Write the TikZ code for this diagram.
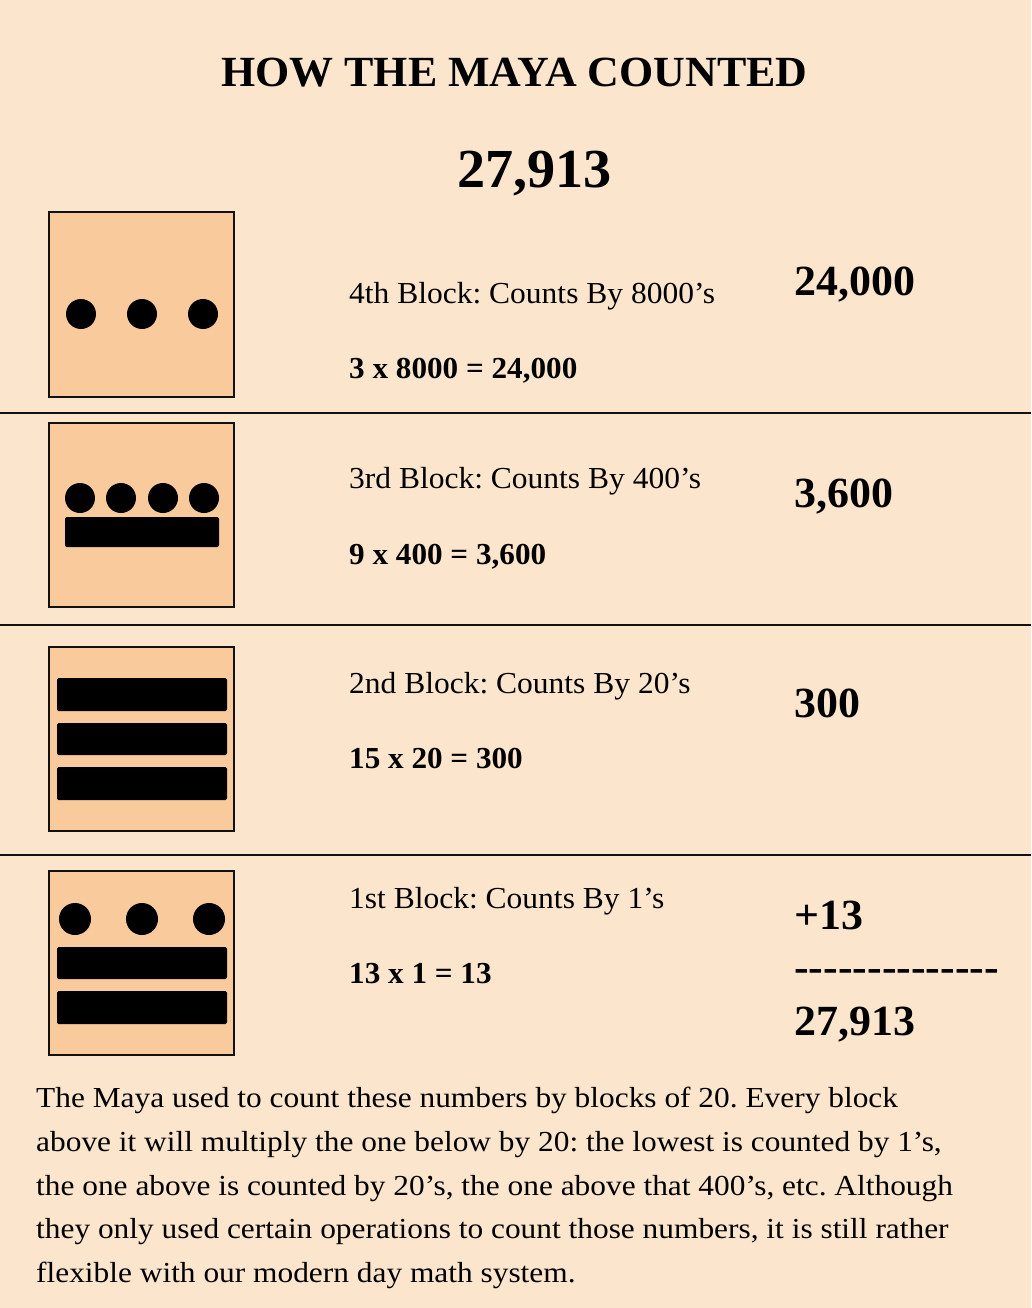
\documentclass[tikz,border=0pt]{standalone}
\usepackage{fontspec}
\setmainfont{Liberation Serif}[FakeStretch=1.022]
\newfontfamily\lblfont{Liberation Serif}[FakeStretch=1.033]
\newfontfamily\parafont{Liberation Serif}[FakeStretch=1.082]
\definecolor{bgc}{HTML}{FCE5CD}
\definecolor{boxc}{HTML}{F9CB9C}
\definecolor{linec}{HTML}{111111}
\newcommand\hy{\mbox{-}}
\frenchspacing
\begin{document}
\frenchspacing
\begin{tikzpicture}[x=1pt,y=-1pt,
  glyphbox/.style={draw=linec, line width=2pt, fill=boxc},
  mdot/.style={fill=black},
  mbar/.style={fill=black, rounded corners=1.5pt},
  divider/.style={draw=linec, line width=2pt},
  lbl/.style={anchor=base west, inner sep=0pt, font=\lblfont\fontsize{30.5}{36}\selectfont},
  eqn/.style={anchor=base west, inner sep=0pt, font=\bfseries\fontsize{30.5}{36}\selectfont},
  big/.style={anchor=base west, inner sep=0pt, font=\bfseries\fontsize{43}{50}\selectfont},
  para/.style={anchor=base west, inner sep=0pt, font=\parafont\fontsize{29}{36}\selectfont}]
\fill[bgc] (0,0) rectangle (1031,1308);
\useasboundingbox (0,0) rectangle (1031,1308);

% title
\node[anchor=base, inner sep=0pt, font=\bfseries\fontsize{43}{50}\selectfont] (title) at (514.5,87) {HOW THE MAYA COUNTED};
\node[anchor=base, inner sep=0pt, font=\bfseries\fontsize{55}{60}\selectfont] (total) at (534.5,187) {27,913};

% dividers
\draw[divider] (0,413) -- (1031,413);
\draw[divider] (0,625) -- (1031,625);
\draw[divider] (0,855) -- (1031,855);

% block 4 (8000s)
\draw[glyphbox] (49,212) rectangle (234,397);
\foreach \cx in {81,142,203} \fill[mdot] (\cx,314) circle[radius=15pt];
\node[lbl] (l4) at (349,303) {4th Block: Counts By 8000’s};
\node[eqn] (e4) at (349,378) {3 x 8000 = 24,000};
\node[big] (n4) at (794,295) {24,000};

% block 3 (400s)
\draw[glyphbox] (49,423) rectangle (234,607);
\foreach \cx in {80,121,163,204} \fill[mdot] (\cx,498) circle[radius=15pt];
\fill[mbar] (65,517) rectangle (219,547);
\node[lbl] (l3) at (349,488) {3rd Block: Counts By 400’s};
\node[eqn] (e3) at (349,564) {9 x 400 = 3,600};
\node[big] (n3) at (794,507) {3,600};

% block 2 (20s)
\draw[glyphbox] (49,647) rectangle (234,831);
\fill[mbar] (57,678) rectangle (227,711);
\fill[mbar] (57,723) rectangle (227,755);
\fill[mbar] (57,767) rectangle (227,800);
\node[lbl] (l2) at (349,693) {2nd Block: Counts By 20’s};
\node[eqn] (e2) at (349,768) {15 x 20 = 300};
\node[big] (n2) at (794,717) {300};

% block 1 (1s)
\draw[glyphbox] (49,871) rectangle (234,1055);
\foreach \cx in {75,142,209} \fill[mdot] (\cx,919) circle[radius=16pt];
\fill[mbar] (57,947) rectangle (227,979);
\fill[mbar] (57,991) rectangle (227,1024);
\node[lbl] (l1) at (349,908) {1st Block: Counts By 1’s};
\node[eqn] (e1) at (349,983) {13 x 1 = 13};
\node[big] (n1) at (794,929) {+13};
\node[big] (dash) at (794,981) {\hy\hy\hy\hy\hy\hy\hy\hy\hy\hy\hy\hy\hy\hy};
\node[big] (sum) at (794,1035) {27,913};

% paragraph
\node[para] (p1) at (36,1107) {The Maya used to count these numbers by blocks of 20. Every block};
\node[para] (p2) at (36,1151) {above it will multiply the one below by 20: the lowest is counted by 1’s,};
\node[para] (p3) at (36,1195) {the one above is counted by 20’s, the one above that 400’s, etc. Although};
\node[para] (p4) at (36,1238) {they only used certain operations to count those numbers, it is still rather};
\node[para] (p5) at (36,1282) {flexible with our modern day math system.};
\end{tikzpicture}
\end{document}
